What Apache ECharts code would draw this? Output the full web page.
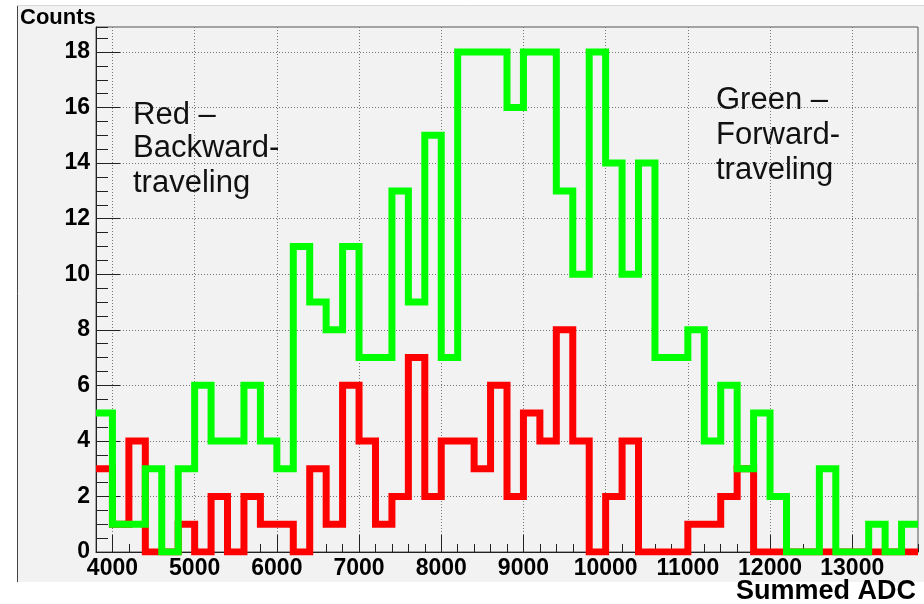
<!DOCTYPE html>
<html>
<head>
<meta charset="utf-8">
<script src="https://cdn.jsdelivr.net/npm/echarts@6/dist/echarts.min.js"></script>
<style>
  html, body { margin: 0; padding: 0; background: #ffffff; }
  #chart { width: 924px; height: 604px; }
</style>
</head>
<body>
<div id="chart"></div>
<script>
// Histogram binning (Summed ADC)
const binStart = 3800;
const binWidth = 200;

// Counts per bin, forward-travelling (green)
const forwardCounts = [
  5, 1, 1, 3, 0, 3, 6, 4, 4, 6,
  4, 3, 11, 9, 8, 11, 7, 7, 13, 9,
  15, 7, 18, 18, 18, 16, 18, 18, 13, 10,
  18, 14, 10, 14, 7, 7, 8, 4, 6, 3,
  5, 2, 0, 0, 3, 0, 0, 1, 0, 1
];

// Counts per bin, backward-travelling (red)
const backwardCounts = [
  3, 1, 4, 0, 0, 1, 0, 2, 0, 2,
  1, 1, 0, 3, 1, 6, 4, 1, 2, 7,
  2, 4, 4, 3, 6, 2, 5, 4, 8, 4,
  0, 2, 4, 0, 0, 0, 1, 1, 2, 3,
  0, 0, 0, 0, 0, 0, 0, 0, 0, 0
];

// Labelled tick values
const xTickValues = [4000, 5000, 6000, 7000, 8000, 9000, 10000, 11000, 12000, 13000];
const yTickValues = [0, 2, 4, 6, 8, 10, 12, 14, 16, 18];

const xMin = binStart;
const xMax = binStart + binWidth * forwardCounts.length;
const yMax = 18.9;

// Outline of a histogram: one point per left bin edge, plus the final right edge
function histogramOutline(counts) {
  const pts = counts.map((c, i) => [binStart + i * binWidth, c]);
  pts.push([binStart + counts.length * binWidth, counts[counts.length - 1]]);
  return pts;
}

const labelFont = {
  fontFamily: 'Liberation Sans, Arial, sans-serif',
  fontWeight: 'bold',
  fontSize: 23,
  color: '#000'
};

const plainNumber = v => String(v);

const gridLine = { show: true, lineStyle: { color: '#777', width: 1, type: [1, 2] } };

const noteFont = '31px "Liberation Sans", Arial, sans-serif';

const chart = echarts.init(document.getElementById('chart'), null, { renderer: 'canvas' });

chart.setOption({
  backgroundColor: '#ffffff',
  animation: false,
  grid: {
    left: 96, top: 27, right: 6, bottom: 52,
    show: true,
    backgroundColor: '#f2f2f2',
    borderColor: '#555',
    borderWidth: 1
  },
  xAxis: [
    {
      // minor ticks every bin
      type: 'value', min: xMin, max: xMax, interval: binWidth,
      position: 'bottom',
      axisLine: { show: true, onZero: false, lineStyle: { color: '#222', width: 1 } },
      axisTick: { show: true, inside: true, length: 8, lineStyle: { color: '#222' } },
      axisLabel: { show: false },
      splitLine: { show: false }
    },
    {
      // major ticks, labels and grid
      type: 'value', min: xMin, max: xMax,
      position: 'bottom',
      axisLine: { show: false },
      axisTick: { show: true, inside: true, length: 17, customValues: xTickValues, lineStyle: { color: '#222' } },
      axisLabel: Object.assign({ show: true, margin: 5, customValues: xTickValues, formatter: plainNumber }, labelFont),
      splitLine: gridLine
    }
  ],
  yAxis: [
    {
      type: 'value', min: 0, max: yMax, interval: 0.5,
      position: 'left',
      axisLine: { show: true, onZero: false, lineStyle: { color: '#222', width: 1 } },
      axisTick: { show: true, inside: true, length: 12, lineStyle: { color: '#222' } },
      axisLabel: { show: false },
      splitLine: { show: false }
    },
    {
      type: 'value', min: 0, max: yMax,
      position: 'left',
      axisLine: { show: false },
      axisTick: { show: true, inside: true, length: 24, customValues: yTickValues, lineStyle: { color: '#222' } },
      axisLabel: Object.assign({ show: true, margin: 6, customValues: yTickValues, formatter: plainNumber }, labelFont),
      splitLine: gridLine
    }
  ],
  series: [
    {
      name: 'Backward-traveling',
      type: 'line',
      step: 'end',
      xAxisIndex: 0, yAxisIndex: 0,
      data: histogramOutline(backwardCounts),
      showSymbol: false,
      clip: true,
      lineStyle: { color: '#ff0000', width: 7, join: 'miter' },
      z: 3
    },
    {
      name: 'Forward-traveling',
      type: 'line',
      step: 'end',
      xAxisIndex: 0, yAxisIndex: 0,
      data: histogramOutline(forwardCounts),
      showSymbol: false,
      clip: true,
      lineStyle: { color: '#00ff00', width: 7, join: 'miter' },
      z: 4
    }
  ],
  graphic: [
    // canvas pad
    { type: 'rect', z: -100, silent: true, shape: { x: 17, y: 5, width: 907, height: 577 }, style: { fill: '#f2f2f2' } },
    { type: 'line', z: -99, silent: true, shape: { x1: 17.5, y1: 5, x2: 17.5, y2: 582 }, style: { stroke: '#444', lineWidth: 1 } },
    { type: 'line', z: -99, silent: true, shape: { x1: 17, y1: 5.5, x2: 924, y2: 5.5 }, style: { stroke: '#d8d8d8', lineWidth: 1 } },
    // axis titles
    { type: 'text', z: 10, left: 20, top: 7, style: { text: 'Counts', font: 'bold 22px "Liberation Sans", Arial, sans-serif', fill: '#000' } },
    { type: 'text', z: 10, x: 916, y: 592, style: { text: 'Summed ADC', font: 'bold 27px "Liberation Sans", Arial, sans-serif', fill: '#000', align: 'right', verticalAlign: 'middle' } },
    // annotations
    { type: 'text', z: 10, x: 133, y: 115, style: { text: 'Red –', font: noteFont, fill: '#111', verticalAlign: 'middle' } },
    { type: 'text', z: 10, x: 133, y: 148.5, style: { text: 'Backward-', font: noteFont, fill: '#111', verticalAlign: 'middle' } },
    { type: 'text', z: 10, x: 133, y: 183, style: { text: 'traveling', font: noteFont, fill: '#111', verticalAlign: 'middle' } },
    { type: 'text', z: 10, x: 716, y: 100, style: { text: 'Green –', font: noteFont, fill: '#111', verticalAlign: 'middle' } },
    { type: 'text', z: 10, x: 716, y: 135.5, style: { text: 'Forward-', font: noteFont, fill: '#111', verticalAlign: 'middle' } },
    { type: 'text', z: 10, x: 716, y: 170, style: { text: 'traveling', font: noteFont, fill: '#111', verticalAlign: 'middle' } }
  ]
});
</script>
</body>
</html>
